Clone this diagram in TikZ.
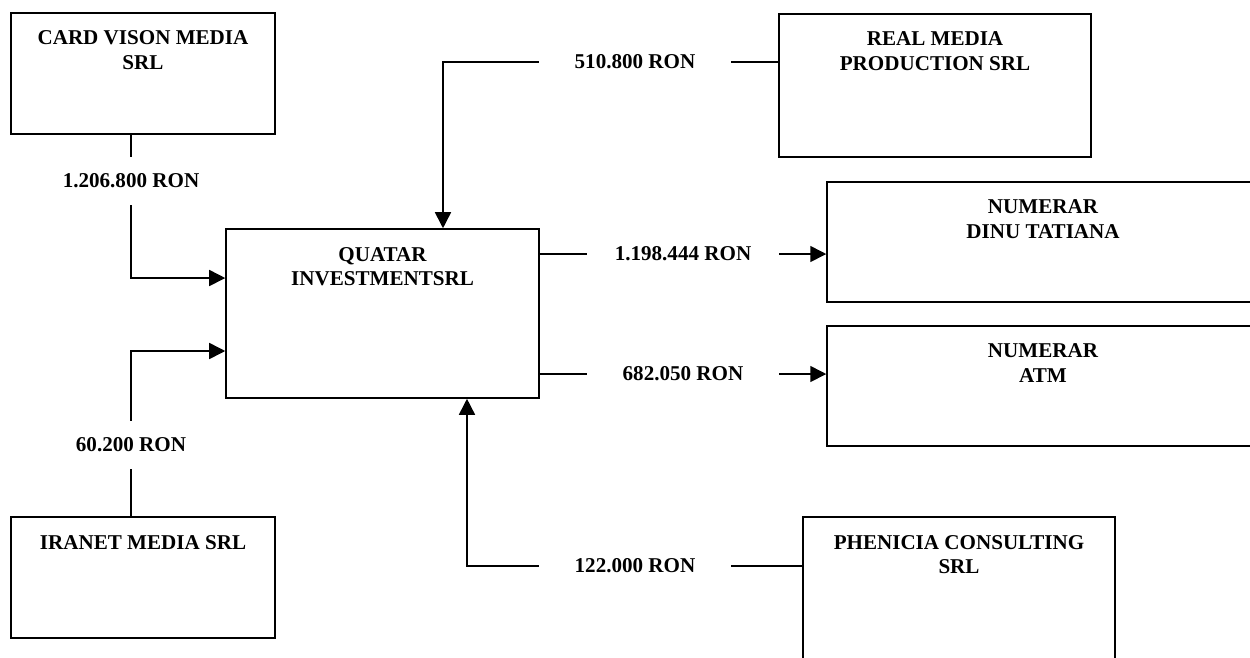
\documentclass[tikz,border=0pt]{standalone}
\usepackage{fontspec}
\setmainfont{Liberation Serif}
\usetikzlibrary{arrows.meta,positioning}

\begin{document}
\begin{tikzpicture}[x=0.02cm, y=-0.02cm,
	firm/.style={shape=rectangle, draw=black, line width=0.9pt},
	firmname/.style={align=center, inner sep=0pt, font=\fontsize{12}{14.2}\selectfont\bfseries},
	amount/.style={minimum width=3.84cm, minimum height=0.96cm, inner sep=0pt, font=\fontsize{12}{14.2}\selectfont\bfseries},
	link/.style={line width=0.9pt},
	flow/.style={line width=0.9pt, -{Triangle[length=0.32cm, width=0.32cm]}}
	]
	\useasboundingbox (0,0) rectangle (1250,657);

	\node[firm, minimum width=5.28cm, minimum height=2.42cm] (card) at (143,73.5) {};
	\node[firmname, below=0.36cm of card.north] (cardname) {CARD VISON MEDIA\\SRL};
	\node[firm, minimum width=6.26cm, minimum height=3.38cm] (quatar) at (382.5,313.5) {};
	\node[firmname, below=0.37cm of quatar.north] (quatarname) {QUATAR\\INVESTMENTSRL};
	\node[firm, minimum width=5.28cm, minimum height=2.42cm] (iranet) at (143,577.5) {};
	\node[firmname, below=0.37cm of iranet.north] (iranetname) {IRANET MEDIA SRL};
	\node[firm, minimum width=6.24cm, minimum height=2.86cm] (realmedia) at (935,85.5) {};
	\node[firmname, below=0.36cm of realmedia.north] (realmedianame) {REAL MEDIA\\PRODUCTION SRL};
	\node[firm, minimum width=8.64cm, minimum height=2.4cm] (dinu) at (1043,242) {};
	\node[firmname, below=0.36cm of dinu.north] (dinuname) {NUMERAR\\DINU TATIANA};
	\node[firm, minimum width=8.64cm, minimum height=2.4cm] (atm) at (1043,386) {};
	\node[firmname, below=0.36cm of atm.north] (atmname) {NUMERAR\\ATM};
	\node[firm, minimum width=6.24cm, minimum height=2.86cm] (phenicia) at (959,588.5) {};
	\node[firmname, below=0.37cm of phenicia.north] (phenicianame) {PHENICIA CONSULTING\\SRL};

	\node[amount] (amtcard) at (131,181) {1.206.800 RON};
	\node[amount] (amtiranet) at (131,445) {60.200 RON};
	\node[amount] (amtreal) at (635,62) {510.800 RON};
	\node[amount] (amtdinu) at (683,254) {1.198.444 RON};
	\node[amount] (amtatm) at (683,374) {682.050 RON};
	\node[amount] (amtphenicia) at (635,566) {122.000 RON};

	\draw[link] (card.south -| amtcard) -- (amtcard.north);
	\draw[flow] (amtcard.south) |- ([yshift=0.71cm]quatar.west);

	\draw[link] (iranet.north -| amtiranet) -- (amtiranet.south);
	\draw[flow] (amtiranet.north) |- ([yshift=-0.75cm]quatar.west);

	\draw[link] (realmedia.west |- amtreal) -- (amtreal.east);
	\draw[flow] (amtreal.west) -| ([xshift=1.21cm]quatar.north);

	\draw[link] (quatar.east |- amtdinu) -- (amtdinu.west);
	\draw[flow] (amtdinu.east) -- (dinu.west |- amtdinu);

	\draw[link] (quatar.east |- amtatm) -- (amtatm.west);
	\draw[flow] (amtatm.east) -- (atm.west |- amtatm);

	\draw[link] (phenicia.west |- amtphenicia) -- (amtphenicia.east);
	\draw[flow] (amtphenicia.west) -| ([xshift=1.69cm]quatar.south);
\end{tikzpicture}
\end{document}
